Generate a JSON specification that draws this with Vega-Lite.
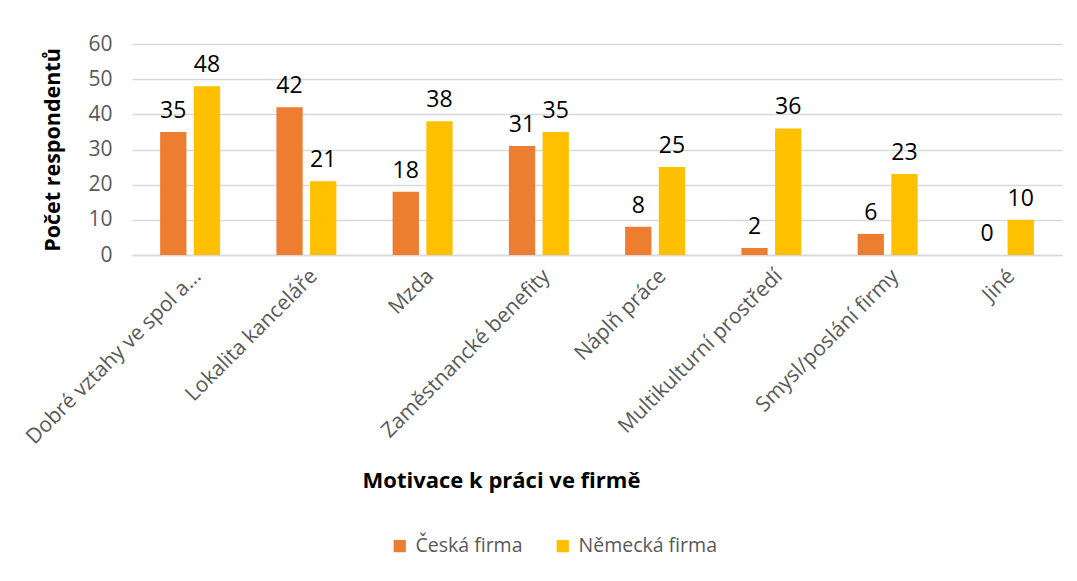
{
  "$schema": "https://vega.github.io/schema/vega-lite/v6.json",
  "width": 930,
  "height": 211,
  "autosize": {"type": "none"},
  "padding": {"left": 132, "top": 44, "right": 15, "bottom": 326},
  "background": "white",
  "config": {
    "font": "Open Sans",
    "view": {"stroke": null}
  },
  "data": {
    "values": [
      {"motivace": "Dobré vztahy ve spol a...", "firma": "Česká firma", "pocet": 35},
      {"motivace": "Dobré vztahy ve spol a...", "firma": "Německá firma", "pocet": 48},
      {"motivace": "Lokalita kanceláře", "firma": "Česká firma", "pocet": 42},
      {"motivace": "Lokalita kanceláře", "firma": "Německá firma", "pocet": 21},
      {"motivace": "Mzda", "firma": "Česká firma", "pocet": 18},
      {"motivace": "Mzda", "firma": "Německá firma", "pocet": 38},
      {"motivace": "Zaměstnancké benefity", "firma": "Česká firma", "pocet": 31},
      {"motivace": "Zaměstnancké benefity", "firma": "Německá firma", "pocet": 35},
      {"motivace": "Náplň práce", "firma": "Česká firma", "pocet": 8},
      {"motivace": "Náplň práce", "firma": "Německá firma", "pocet": 25},
      {"motivace": "Multikulturní prostředí", "firma": "Česká firma", "pocet": 2},
      {"motivace": "Multikulturní prostředí", "firma": "Německá firma", "pocet": 36},
      {"motivace": "Smysl/poslání firmy", "firma": "Česká firma", "pocet": 6},
      {"motivace": "Smysl/poslání firmy", "firma": "Německá firma", "pocet": 23},
      {"motivace": "Jiné", "firma": "Česká firma", "pocet": 0},
      {"motivace": "Jiné", "firma": "Německá firma", "pocet": 10}
    ]
  },
  "encoding": {
    "x": {
      "field": "motivace",
      "type": "nominal",
      "sort": null,
      "scale": {"paddingInner": 0.484, "paddingOuter": 0.242},
      "axis": {
        "title": "Motivace k práci ve firmě",
        "titleFontSize": 22,
        "titleFontWeight": "bold",
        "titleColor": "#000000",
        "titleX": 369,
        "titleAlign": "center",
        "titleY": 225,
        "titleBaseline": "middle",
        "labelAngle": -45,
        "labelAlign": "right",
        "labelBaseline": "top",
        "labelFontSize": 21,
        "labelColor": "#595959",
        "labelPadding": 10,
        "labelLimit": 400,
        "ticks": false,
        "domainColor": "#d9d9d9",
        "domainWidth": 1.5
      }
    },
    "xOffset": {
      "field": "firma",
      "type": "nominal",
      "sort": ["Česká firma", "Německá firma"],
      "scale": {"paddingInner": 0.22, "paddingOuter": 0}
    },
    "y": {
      "field": "pocet",
      "type": "quantitative",
      "scale": {"domain": [0, 60]},
      "axis": {
        "title": "Počet respondentů",
        "titleFontSize": 21.5,
        "titleFontWeight": "bold",
        "titleColor": "#000000",
        "titleX": -68,
        "values": [0, 10, 20, 30, 40, 50, 60],
        "labelFontSize": 21,
        "labelColor": "#595959",
        "labelPadding": 20,
        "ticks": false,
        "domain": false,
        "gridColor": "#d9d9d9",
        "gridWidth": 1.5
      }
    }
  },
  "layer": [
    {
      "mark": {"type": "bar"},
      "encoding": {
        "color": {
          "field": "firma",
          "type": "nominal",
          "scale": {"domain": ["Česká firma", "Německá firma"], "range": ["#ED7D31", "#FFC000"]},
          "legend": {
            "title": null,
            "orient": "none",
            "direction": "horizontal",
            "legendX": 258,
            "legendY": 492,
            "symbolType": "square",
            "symbolSize": 150,
            "symbolStrokeWidth": 0,
            "labelFontSize": 19.5,
            "labelColor": "#595959",
            "columnPadding": 30,
            "labelOffset": 6
          }
        }
      }
    },
    {
      "mark": {"type": "text", "baseline": "alphabetic", "dy": -14, "fontSize": 23, "color": "#000000"},
      "encoding": {
        "text": {"field": "pocet", "type": "quantitative"}
      }
    }
  ]
}
